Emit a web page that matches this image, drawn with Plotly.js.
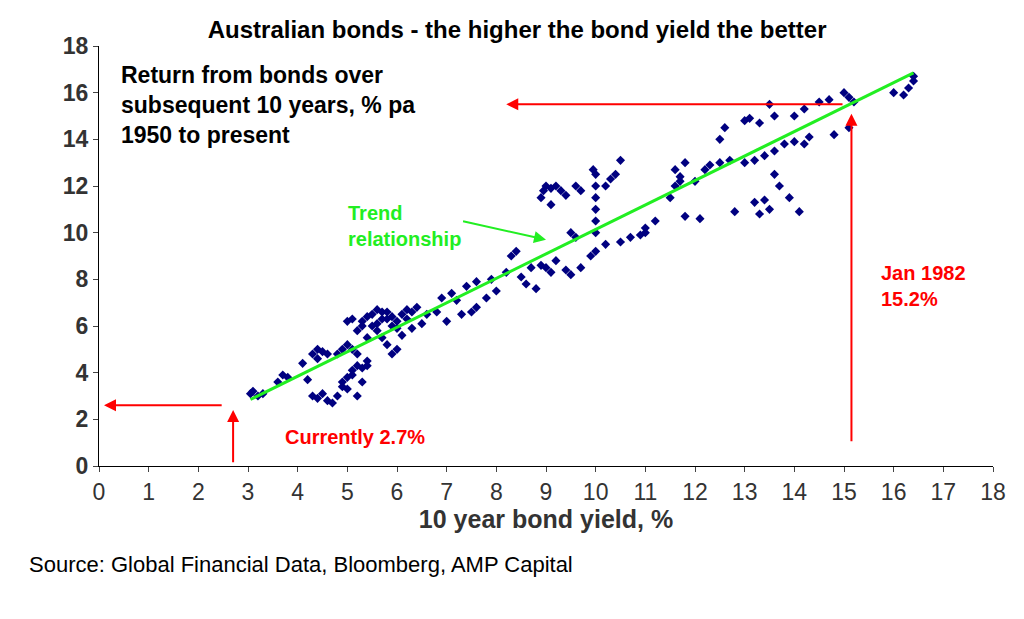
<!DOCTYPE html>
<html><head><meta charset="utf-8">
<script src="https://cdn.plot.ly/plotly-3.0.1.min.js"></script>
<style>body{margin:0;background:#fff}</style></head>
<body><div id="chart" style="width:1024px;height:619px"></div>
<script>
var yieldX = [3.05,3.1,3.2,3.3,3.6,3.7,3.8,4.1,4.2,4.3,4.4,4.5,4.6,4.3,4.4,4.5,4.6,4.7,4.8,4.9,4.9,5.0,5.0,5.1,5.1,5.2,5.3,5.4,5.3,5.2,5.4,4.8,4.9,5.0,5.1,5.2,5.0,5.1,5.2,5.3,5.4,5.5,5.6,5.7,5.8,5.9,6.0,6.1,6.2,6.3,6.4,5.5,5.6,5.7,5.8,5.9,6.0,6.1,6.3,6.5,6.6,6.8,6.9,7.1,7.2,7.0,7.3,7.5,7.6,7.8,8.0,7.4,7.6,7.9,8.2,8.3,8.4,8.5,8.6,8.7,8.8,8.9,9.0,9.1,9.2,8.9,8.95,9.0,9.1,9.2,9.3,9.4,9.1,9.6,9.7,9.5,9.6,9.4,9.5,9.7,9.9,10.0,10.0,10.0,10.0,10.0,10.0,10.0,9.95,10.2,10.3,10.4,10.5,10.2,10.5,10.7,10.9,11.0,11.2,11.0,11.5,11.6,11.7,11.7,11.8,11.6,12.0,12.2,12.3,12.5,12.7,12.5,12.6,13.0,13.1,11.8,12.1,13.0,13.2,13.4,13.6,13.8,14.0,14.2,14.3,13.5,13.6,13.3,14.0,14.2,14.5,14.7,15.0,15.1,15.2,14.8,15.1,13.6,13.7,13.9,13.5,13.3,13.2,12.8,13.4,14.1,16.0,16.2,16.3,16.4,16.4,5.6,5.8,6.0,5.4,5.7,5.3,4.4,5.9,6.2];
var returnY = [3.1,3.2,3.0,3.1,3.6,3.9,3.8,4.4,3.7,4.8,5.0,4.9,4.8,3.0,2.9,3.1,2.8,2.7,3.0,3.4,3.6,3.3,3.8,4.1,3.9,4.3,4.2,4.3,3.6,3.0,4.5,4.8,5.0,5.2,5.0,4.8,6.2,6.3,5.8,6.0,6.4,6.5,6.7,6.3,6.6,6.4,6.2,6.5,6.7,6.6,6.8,6.0,5.8,5.5,5.2,4.8,5.0,5.6,5.9,6.1,6.5,6.6,7.2,7.4,7.1,6.2,6.5,6.6,6.8,7.2,7.5,7.7,7.9,8.0,8.3,9.0,9.2,8.1,7.8,8.5,7.6,8.6,8.5,8.3,8.8,11.5,11.8,12.0,11.9,12.0,11.8,11.6,11.2,12.0,11.8,10.0,9.8,8.4,8.2,8.5,9.0,9.2,10.0,10.5,11.0,11.5,12.0,12.5,12.7,12.0,12.3,12.5,13.1,9.5,9.6,9.8,9.9,10.2,10.5,10.0,11.5,12.0,12.4,12.2,13.0,12.7,12.2,12.7,12.9,13.0,13.1,14.0,14.5,14.8,14.9,10.7,10.6,13.0,13.1,13.3,13.5,13.8,13.9,13.8,14.1,15.5,15.0,14.7,15.0,15.3,15.6,15.7,16.0,15.8,15.6,14.2,14.5,12.5,12.0,11.5,11.0,10.8,11.3,10.9,11.4,10.9,16.0,15.9,16.2,16.5,16.7,6.1,6.3,5.9,5.5,6.6,6.2,4.6,6.0,6.3];
var trendX = [3.05, 16.4];
var trendY = [2.85, 16.85];
var xTicks = [0,1,2,3,4,5,6,7,8,9,10,11,12,13,14,15,16,17,18];

var red = '#ff0000', green = '#22ee22';
function arrow(x, y, ax, ay, c) {
  return {x: x, y: y, ax: ax, ay: ay, xref: 'x', yref: 'y', axref: 'x', ayref: 'y',
    showarrow: true, arrowhead: 2, arrowsize: 1.2, arrowwidth: 2, arrowcolor: c, text: ''};
}
var fam = 'Liberation Sans, Arial, sans-serif';

Plotly.newPlot('chart', [
  {x: yieldX, y: returnY, type: 'scatter', mode: 'markers',
   marker: {symbol: 'diamond', size: 7, color: '#000080'}, hoverinfo: 'none'},
  {x: trendX, y: trendY, type: 'scatter', mode: 'lines',
   line: {color: green, width: 3}, hoverinfo: 'none'}
], {
  width: 1024, height: 619, showlegend: false,
  paper_bgcolor: '#fff', plot_bgcolor: '#fff',
  margin: {l: 99, r: 31, t: 46, b: 153},
  font: {family: fam, size: 20, color: '#000'},
  title: {text: '<b>Australian bonds - the higher the bond yield the better</b>',
    x: 0.505, y: 0.965, font: {family: fam, size: 24, color: '#000'}},
  xaxis: {range: [0, 18], tickvals: xTicks, showgrid: false, zeroline: false,
    showline: true, linecolor: '#000', linewidth: 1, ticks: 'outside', ticklen: 5,
    tickprefix: '<b>', ticksuffix: '</b>',
    tickfont: {size: 23, color: '#333'},
    title: {text: '<b>10 year bond yield, %</b>', font: {size: 25, color: '#333'}, standoff: 2}},
  yaxis: {range: [0, 18], dtick: 2, showgrid: false, zeroline: false,
    showline: true, linecolor: '#000', linewidth: 1, ticks: 'outside', ticklen: 5,
    tickprefix: '<b>', ticksuffix: '</b>',
    tickfont: {size: 23, color: '#333'}},
  annotations: [
    arrow(8.2, 15.5, 15.0, 15.5, red),
    arrow(15.15, 15.1, 15.15, 1.0, red),
    arrow(0.1, 2.6, 2.5, 2.6, red),
    arrow(2.7, 2.4, 2.7, 0.1, red),
    arrow(9.0, 9.7, 7.3, 10.5, green),
    {x: 0.4, y: 17.4, xref: 'x', yref: 'y', xanchor: 'left', yanchor: 'top', align: 'left', showarrow: false,
     text: '<b>Return from bonds over<br>subsequent 10 years, % pa<br>1950 to present</b>',
     font: {size: 23, color: '#000'}},
    {x: 6.15, y: 10.3, xref: 'x', yref: 'y', showarrow: false, align: 'left',
     text: '<b>Trend<br>relationship</b>', font: {size: 20, color: green}},
    {x: 16.6, y: 7.7, xref: 'x', yref: 'y', showarrow: false, align: 'left',
     text: '<b>Jan 1982<br>15.2%</b>', font: {size: 20, color: red}},
    {x: 5.15, y: 1.25, xref: 'x', yref: 'y', showarrow: false,
     text: '<b>Currently 2.7%</b>', font: {size: 20, color: red}},
    {x: -0.081, y: -0.2, xref: 'paper', yref: 'paper', xanchor: 'left', yanchor: 'top', showarrow: false,
     text: 'Source: Global Financial Data, Bloomberg, AMP Capital',
     font: {family: fam, size: 22, color: '#000'}}
  ]
}, {displayModeBar: false});
</script></body></html>
